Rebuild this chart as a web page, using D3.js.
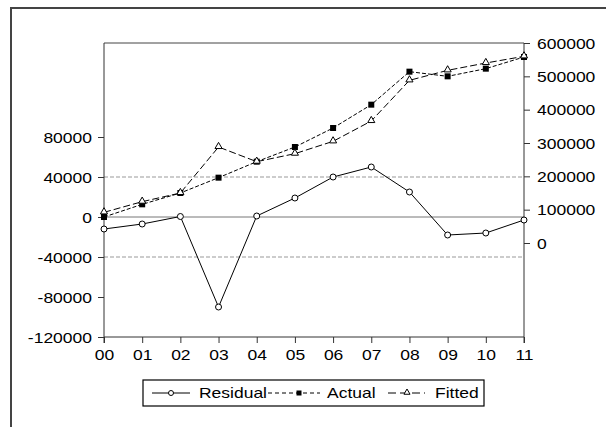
<!DOCTYPE html>
<html>
<head>
<meta charset="utf-8">
<script src="https://cdn.jsdelivr.net/npm/d3@7"></script>
<style>
  body { margin: 0; background: #fff; }
  text { font-family: "Liberation Sans", Arial, sans-serif; font-size: 14px; fill: #000; }
</style>
</head>
<body>
<div id="chart"></div>
<script>
var years = ["00", "01", "02", "03", "04", "05", "06", "07", "08", "09", "10", "11"];
var residual = [-12000, -7000, 500, -90000, 1000, 19000, 40000, 50000, 25000, -18000, -16000, -3000];
var actual = [78000, 116000, 150000, 196000, 244000, 288000, 345000, 415000, 514000, 500000, 523000, 558000];
var fitted = [92000, 124000, 150000, 288000, 244000, 268000, 305000, 366000, 488000, 518000, 540000, 560000];
var leftTicks = [-120000, -80000, -40000, 0, 40000, 80000];
var rightTicks = [0, 100000, 200000, 300000, 400000, 500000, 600000];
var bands = [-40000, 40000];
var legendNames = ["Residual", "Actual", "Fitted"];

var width = 606, height = 427;
var sx = 1.25; // glyphs in the picture are stretched sideways

var svg = d3.select("#chart").append("svg")
    .attr("width", width)
    .attr("height", height);

// outer frame (only top and left show in the picture)
svg.append("rect")
    .attr("x", 11).attr("y", 8)
    .attr("width", 700).attr("height", 500)
    .attr("fill", "none")
    .attr("stroke", "#444")
    .attr("stroke-width", 2);

var margin = {top: 43, left: 104, right: 82, bottom: 90};
var w = width - margin.left - margin.right,
    h = height - margin.top - margin.bottom;
var g = svg.append("g").attr("transform", "translate(" + margin.left + "," + margin.top + ")");

var x = d3.scalePoint().domain(d3.range(years.length)).range([0, w]);
var yL = d3.scaleLinear().domain([-120000, 174000]).range([h, 0]);
var yR = d3.scaleLinear().domain([-282000, 600000]).range([h, 0]);
var fmt = function(d) { return String(d); }; // plain hyphen minus, as in the picture

// dashed bands and zero line
g.selectAll(".band").data(bands).enter().append("line")
    .attr("x1", 0).attr("x2", w)
    .attr("y1", function(d) { return yL(d); })
    .attr("y2", function(d) { return yL(d); })
    .attr("stroke", "#999")
    .attr("stroke-dasharray", "4,2");
g.append("line")
    .attr("x1", 0).attr("x2", w)
    .attr("y1", yL(0)).attr("y2", yL(0))
    .attr("stroke", "#777");

// top border
g.append("line").attr("x1", 0).attr("x2", w).attr("y1", 0).attr("y2", 0)
    .attr("stroke", "#444");

function styleAxis(sel) {
  sel.select(".domain").attr("stroke", "#333");
  sel.selectAll(".tick line").attr("stroke", "#333");
  sel.selectAll("text").attr("font-size", null).attr("font-family", null);
}

var gl = g.append("g")
    .call(d3.axisLeft(yL).tickValues(leftTicks).tickSize(6).tickSizeOuter(0).tickFormat(fmt));
styleAxis(gl);
gl.selectAll(".tick text")
    .attr("x", -12 / sx).attr("dy", "0.36em")
    .attr("transform", "scale(" + sx + ",1)");
gl.select(".domain").attr("d", "M0," + (h + 6) + "V0");

var gr = g.append("g")
    .attr("transform", "translate(" + w + ",0)")
    .call(d3.axisRight(yR).tickValues(rightTicks).tickSize(6).tickSizeOuter(0).tickFormat(fmt));
styleAxis(gr);
gr.selectAll(".tick text")
    .attr("x", 13 / sx).attr("dy", "0.36em")
    .attr("transform", "scale(" + sx + ",1)");
gr.select(".domain").attr("d", "M0," + (h + 6) + "V0");

var gx = g.append("g")
    .attr("transform", "translate(0," + h + ")")
    .call(d3.axisBottom(x).tickSize(6).tickSizeOuter(0).tickFormat(function(i) { return years[i]; }));
styleAxis(gx);
gx.selectAll(".tick text")
    .attr("y", 23).attr("dy", null)
    .attr("transform", "scale(" + sx + ",1)")
    .attr("x", 0);
gx.select(".domain").attr("d", "M0,0H" + w);

// series
var lineL = d3.line().x(function(d, i) { return x(i); }).y(function(d) { return yL(d); });
var lineR = d3.line().x(function(d, i) { return x(i); }).y(function(d) { return yR(d); });

g.append("path").datum(actual)
    .attr("d", lineR).attr("fill", "none").attr("stroke", "#000")
    .attr("stroke-dasharray", "4,2");
g.append("path").datum(fitted)
    .attr("d", lineR).attr("fill", "none").attr("stroke", "#000")
    .attr("stroke-dasharray", "7,3");
g.append("path").datum(residual)
    .attr("d", lineL).attr("fill", "none").attr("stroke", "#000");

var tri = d3.symbol().type(d3.symbolTriangle).size(22);

g.selectAll(".sq").data(actual).enter().append("rect")
    .attr("x", function(d, i) { return x(i) - 3; })
    .attr("y", function(d) { return yR(d) - 3; })
    .attr("width", 6).attr("height", 6)
    .attr("fill", "#000");
g.selectAll(".tri").data(fitted).enter().append("path")
    .attr("d", tri)
    .attr("transform", function(d, i) { return "translate(" + x(i) + "," + (yR(d) - 0.5) + ")"; })
    .attr("fill", "#fff").attr("stroke", "#000");
g.selectAll(".dot").data(residual).enter().append("circle")
    .attr("cx", function(d, i) { return x(i); })
    .attr("cy", function(d) { return yL(d); })
    .attr("r", 3)
    .attr("fill", "#fff").attr("stroke", "#000");

// legend
var lg = svg.append("g").attr("transform", "translate(143,380)");
lg.append("rect").attr("width", 341).attr("height", 26)
    .attr("fill", "#fff").attr("stroke", "#000").attr("stroke-width", 1.2);
var legendLine = [[9, 47], [125, 177], [245, 282]];
var legendMark = [28, 156, 264];
var legendText = [56, 184, 292];
var legendDash = [null, "4,3", "8,4"];
legendNames.forEach(function(name, k) {
  lg.append("line")
      .attr("x1", legendLine[k][0]).attr("x2", legendLine[k][1])
      .attr("y1", 13).attr("y2", 13)
      .attr("stroke", "#000").attr("stroke-dasharray", legendDash[k]);
  var mx = legendMark[k];
  if (k === 0) {
    lg.append("circle").attr("cx", mx).attr("cy", 13).attr("r", 2.5)
        .attr("fill", "#fff").attr("stroke", "#000");
  } else if (k === 1) {
    lg.append("rect").attr("x", mx - 2.5).attr("y", 10.5).attr("width", 5).attr("height", 5).attr("fill", "#000");
  } else {
    lg.append("path").attr("d", d3.symbol().type(d3.symbolTriangle).size(16))
        .attr("transform", "translate(" + mx + ",12.5)")
        .attr("fill", "#fff").attr("stroke", "#000");
  }
  lg.append("text")
      .attr("x", legendText[k] / sx).attr("y", 18)
      .attr("transform", "scale(" + sx + ",1)")
      .text(name);
});
</script>
</body>
</html>
